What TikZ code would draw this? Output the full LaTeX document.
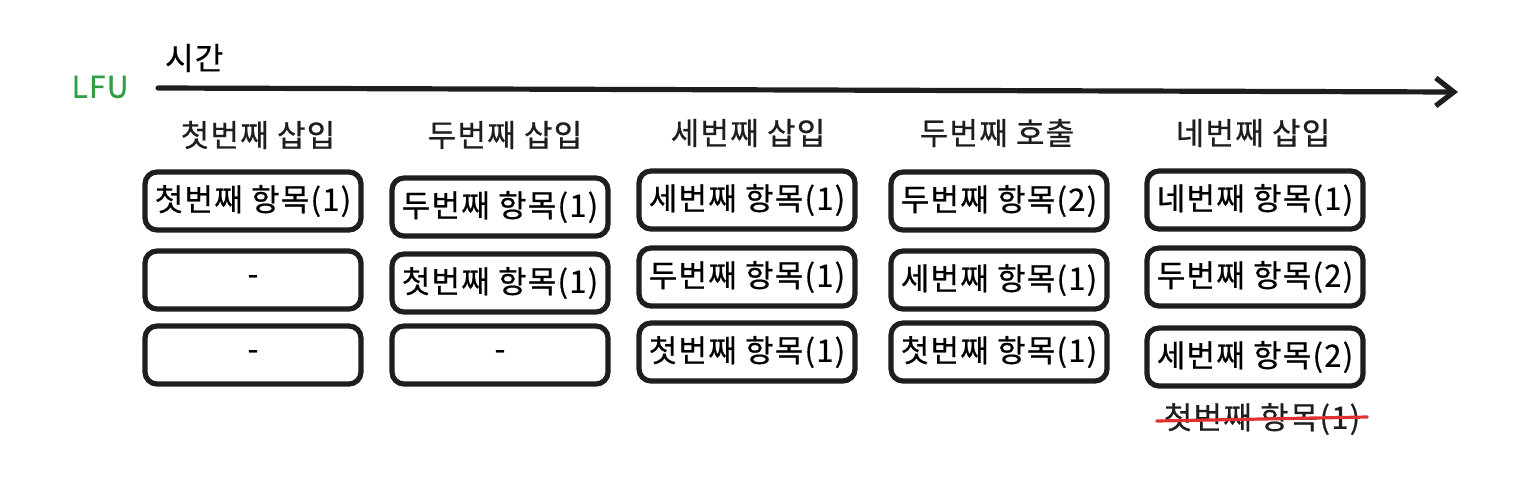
\documentclass[tikz,border=0pt]{standalone}
\usepackage{fontspec}
\setmainfont{Noto Sans CJK KR}[FakeBold=0.6, LetterSpace=4]
\usepackage{xcolor}
\usetikzlibrary{arrows.meta}
\definecolor{lfuGreen}{HTML}{2F9E44}
\definecolor{lfuRed}{HTML}{E03131}
\definecolor{lfuInk}{HTML}{1E1E1E}

\tikzset{
    slot/.style={draw=lfuInk, line width=2.6pt, rounded corners=6pt, fill=white,
        minimum width=108pt, minimum height=29pt, inner sep=0pt, font=\fontsize{15.5}{17}\selectfont},
    colhead/.style={font=\fontsize{15.5}{17}\selectfont, text=lfuInk},
}

\begin{document}
\begin{tikzpicture}[x=0.5pt, y=-0.5pt]
    \useasboundingbox (0,0) rectangle (1538,494);

    % time axis
    \coordinate (tstart) at (158,88);
    \coordinate (tend) at (1458,92);
    \draw[-{Straight Barb[length=9pt,width=14pt]}, line width=2.6pt, line cap=round, lfuInk] (tstart) -- (tend);
    \node[font=\fontsize{15.5}{17}\selectfont, anchor=west] (time) at (158,58) {시간};
    \node[font=\fontsize{15}{17}\selectfont, text=lfuGreen] (lfu) at (100,87) {LFU};

    % column headers
    \node[colhead] (h1) at (258,135) {첫번째 삽입};
    \node[colhead] (h2) at (505,135) {두번째 삽입};
    \node[colhead] (h3) at (748,133) {세번째 삽입};
    \node[colhead] (h4) at (997,133) {두번째 호출};
    \node[colhead] (h5) at (1253,133) {네번째 삽입};

    % first insert
    \node[slot] (a1) at (253,201) {첫번째 항목(1)};
    \node[slot] (a2) at (253,280) {-};
    \node[slot] (a3) at (253,355) {-};

    % second insert
    \node[slot] (b1) at (500,207) {두번째 항목(1)};
    \node[slot] (b2) at (500,283) {첫번째 항목(1)};
    \node[slot] (b3) at (500,355) {-};

    % third insert
    \node[slot] (c1) at (747,200) {세번째 항목(1)};
    \node[slot] (c2) at (747,277) {두번째 항목(1)};
    \node[slot] (c3) at (747,352) {첫번째 항목(1)};

    % second access
    \node[slot] (d1) at (999,201) {두번째 항목(2)};
    \node[slot] (d2) at (999,280) {세번째 항목(1)};
    \node[slot] (d3) at (999,352) {첫번째 항목(1)};

    % fourth insert
    \node[slot] (e1) at (1255,200) {네번째 항목(1)};
    \node[slot] (e2) at (1255,277) {두번째 항목(2)};
    \node[slot] (e3) at (1255,357) {세번째 항목(2)};

    % evicted
    \node[colhead] (out) at (1262,419) {첫번째 항목(1)};
    \draw[lfuRed, line width=1.6pt, line cap=round] ([yshift=-1pt]out.west) -- ([yshift=1pt]out.east);
\end{tikzpicture}
\end{document}
